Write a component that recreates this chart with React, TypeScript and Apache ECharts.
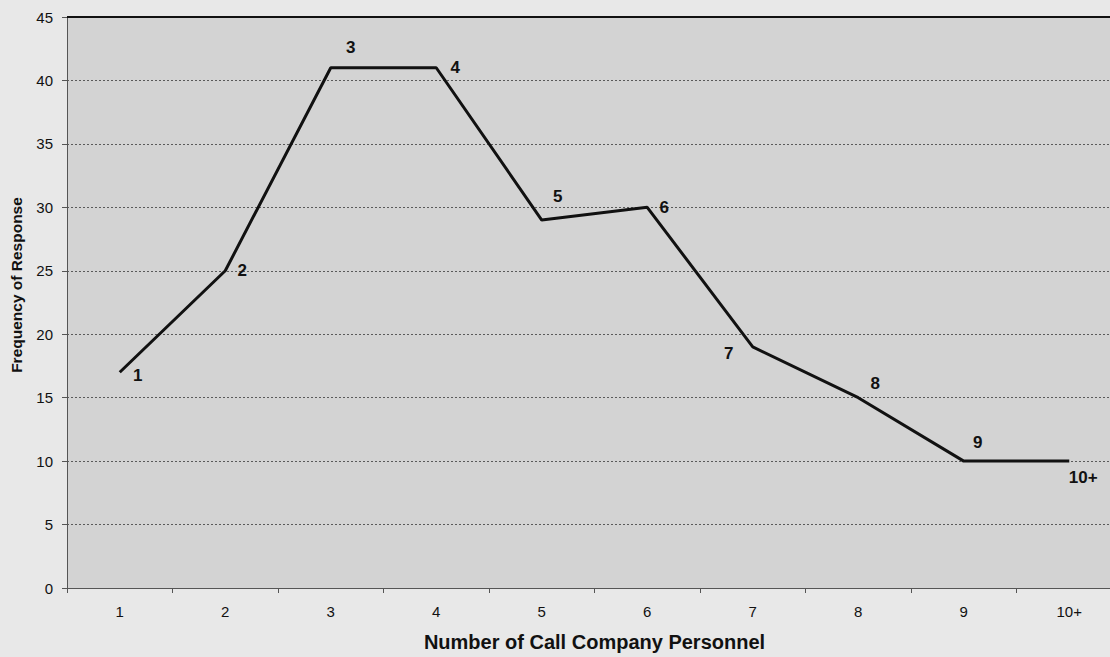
import React, { useEffect, useRef } from "react";
import * as echarts from "echarts";

const categories = ["1", "2", "3", "4", "5", "6", "7", "8", "9", "10+"];
const frequency = [17, 25, 41, 41, 29, 30, 19, 15, 10, 10];
const labelOffsets: [number, number][] = [
  [18, 3], [17, 0], [20, -20], [19, 0], [16, -24], [17, 0], [-24, 7], [17, -14], [14, -19], [14, 16],
];

export default function App() {
  const ref = useRef<HTMLDivElement>(null);
  useEffect(() => {
    document.body.style.margin = "0";
    const chart = echarts.init(ref.current!, null, { renderer: "svg" });
    chart.setOption({
      animation: false,
      backgroundColor: "#e8e8e8",
      textStyle: { fontFamily: "Liberation Sans, Arial, sans-serif" },
      grid: {
        left: 67,
        right: 0,
        top: 17,
        bottom: 63,
        show: true,
        backgroundColor: "#d3d3d3",
        borderWidth: 0,
      },
      graphic: [
        {
          type: "text",
          x: 16,
          y: 285,
          rotation: Math.PI / 2,
          style: {
            text: "Frequency of Response",
            fill: "#111",
            font: "bold 15.5px 'Liberation Sans', Arial, sans-serif",
            textAlign: "center",
            textVerticalAlign: "middle",
          },
        },
      ],
      xAxis: {
        type: "category",
        data: categories,
        boundaryGap: true,
        name: "Number of Call Company Personnel",
        nameLocation: "middle",
        nameGap: 44,
        nameTextStyle: { fontSize: 20, fontWeight: "bold", color: "#111" },
        axisLine: { lineStyle: { color: "#555", width: 1 } },
        axisTick: { show: true, length: 5, lineStyle: { color: "#555" } },
        axisLabel: { fontSize: 15, color: "#111", margin: 16 },
      },
      yAxis: {
        type: "value",
        min: 0,
        max: 45,
        interval: 5,
        axisLine: { show: true, lineStyle: { color: "#555", width: 1 } },
        axisTick: { show: true, length: 5, lineStyle: { color: "#555" } },
        axisLabel: { fontSize: 15, color: "#111", margin: 14 },
        splitLine: { show: true, lineStyle: { color: "#5a5a5a", width: 1, type: [2, 2] } },
      },
      series: [
        {
          type: "line",
          data: frequency.map((v, i) => ({
            value: v,
            label: {
              show: true,
              position: "inside",
              offset: labelOffsets[i],
              formatter: categories[i],
              fontSize: 17,
              fontWeight: "bold",
              color: "#111",
            },
          })),
          symbol: "circle",
          symbolSize: 1,
          itemStyle: { color: "rgba(0,0,0,0)" },
          lineStyle: { color: "#111", width: 3 },
          markLine: {
            silent: true,
            symbol: "none",
            label: { show: false },
            lineStyle: { color: "#111", width: 2, type: "solid" },
            data: [{ yAxis: 45 }],
          },
        },
      ],
    });
    return () => chart.dispose();
  }, []);
  return (
    <div style={{ width: 1110, height: 657, overflow: "hidden" }}>
      <div ref={ref} style={{ width: 1122, height: 657 }} />
    </div>
  );
}
